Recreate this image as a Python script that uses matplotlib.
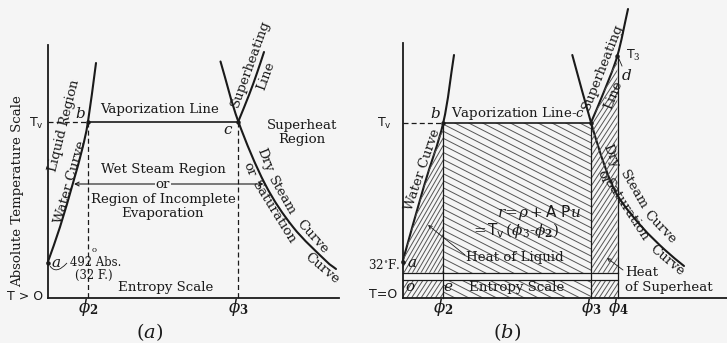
import numpy as np
import matplotlib
matplotlib.use('Agg')
import matplotlib.pyplot as plt
from matplotlib.path import Path
from matplotlib.patches import PathPatch

plt.rcParams['mathtext.fontset'] = 'dejavuserif'

## curve points (pixel coords, y grows downward)
# panel (a)
water_a_x = [47.5, 60, 73, 82, 88, 96]
water_a_y = [263, 227, 183, 150, 121.5, 63]
sat_a_x = [220.5, 238.3, 265, 293, 325, 336]
sat_a_y = [61.5, 121.5, 184, 227, 260, 269]
sh_a_x = [238.3, 249, 257, 264]
sh_a_y = [121.5, 95, 73, 52]
phi_a = [88, 238.3]          # phi2, phi3
tv_a = 121.5

# panel (b)
water_b_x = [402.5, 424, 443.3, 454]
water_b_y = [262, 186, 122.5, 55]
sat_b_x = [572.3, 591, 605, 618.3, 641.7, 665, 684]
sat_b_y = [55, 122.5, 166.7, 196.7, 226.7, 250, 266]
sh_b_x = [591, 603.3, 617.3, 628]
sh_b_y = [122.5, 93.3, 56, 9]
phi_b = [443.3, 591, 617.5]  # phi2, phi3, phi4
tv_b = 122.5
strip_b = [272.7, 279.5]     # lines of the entropy strip

# words set along the saturation curve
sat_words_top = ['Dry', 'Steam', 'Curve']
sat_words_bot = ['or', 'Saturation', 'Curve']

BG = '#f5f5f5'
INK = '#1a1a1a'
SERIF = 'DejaVu Serif'
SANS = 'DejaVu Sans'
FS = 9.6


def curve_path(xs, ys):
    # catmull-rom through the points, handed to matplotlib as cubic beziers
    p = np.column_stack([xs, ys]).astype(float)
    ext = np.vstack([p[0] - (p[1] - p[0]), p, p[-1] + (p[-1] - p[-2])])
    verts = [p[0]]
    codes = [Path.MOVETO]
    for i in range(1, len(ext) - 2):
        c1 = ext[i] + (ext[i + 1] - ext[i - 1]) / 6
        c2 = ext[i + 1] - (ext[i + 2] - ext[i]) / 6
        verts += [c1, c2, ext[i + 1]]
        codes += [Path.CURVE4] * 3
    return verts, codes


def draw_curve(ax, xs, ys, lw=1.5):
    v, c = curve_path(xs, ys)
    ax.add_patch(PathPatch(Path(v, c), fill=False, lw=lw, ec=INK, capstyle='round'))


def hatch(ax, clip, angle, spacing, lw=0.7, color='#555555'):
    # angle in screen degrees, positive = rising to the right
    verts = clip.vertices
    cx, cy = verts[:, 0].mean(), verts[:, 1].mean()
    L = 400
    a = np.radians(angle)
    d = np.array([np.cos(a), -np.sin(a)])
    n = np.array([np.sin(a), np.cos(a)])
    patch = PathPatch(clip, fill=False, lw=0, ec='none')
    ax.add_patch(patch)
    for k in np.arange(-60, 61) * spacing:
        p0 = np.array([cx, cy]) + n * k - d * L
        p1 = np.array([cx, cy]) + n * k + d * L
        ln, = ax.plot([p0[0], p1[0]], [p0[1], p1[1]], color=color, lw=lw)
        ln.set_clip_path(patch)


def box(x0, x1, y0, y1):
    return Path([(x0, y0), (x1, y0), (x1, y1), (x0, y1), (x0, y0)],
                [Path.MOVETO, Path.LINETO, Path.LINETO, Path.LINETO, Path.CLOSEPOLY])


fig = plt.figure(figsize=(7.27, 3.43), dpi=100, facecolor=BG)
ax = fig.add_axes([0, 0, 1, 1])
ax.set_xlim(0, 727)
ax.set_ylim(343, 0)
ax.axis('off')
ax.set_facecolor(BG)

def txt(x, y, s, fs=FS, family=SERIF, **kw):
    kw.setdefault('ha', 'center')
    kw.setdefault('va', 'center')
    kw.setdefault('rotation_mode', 'anchor')
    ax.text(x, y, s, fontsize=fs, family=family, color=INK, **kw)

# ---------------- panel (a) ----------------
ax.plot([47.5, 47.5], [45, 297.5], color=INK, lw=1.3)
ax.plot([47.5, 339], [297.5, 297.5], color=INK, lw=1.3)
draw_curve(ax, water_a_x, water_a_y)
draw_curve(ax, sat_a_x, sat_a_y)
draw_curve(ax, sh_a_x, sh_a_y)
ax.plot([phi_a[0], phi_a[1]], [tv_a, tv_a], color=INK, lw=1.2)
ax.plot([47.5, phi_a[0]], [tv_a, tv_a], color=INK, lw=0.9, ls=(0, (4, 2.5)))
for xp in phi_a:
    ax.plot([xp, xp], [tv_a, 297.5], color=INK, lw=0.9, ls=(0, (4, 2.5)))
ax.plot([water_a_x[0], phi_a[0], phi_a[1]], [water_a_y[0], tv_a, tv_a], 'o',
        color=INK, ms=2.2)
ax.annotate('', xy=(74, 184), xytext=(263.5, 184),
            arrowprops=dict(arrowstyle='<->', lw=0.8, color=INK, mutation_scale=7,
                            shrinkA=0, shrinkB=0))

txt(18, 191, 'Absolute Temperature Scale', rotation=90)
txt(25, 297, 'T > O', family=SANS, fs=9)
txt(36, 123, r'T$_\mathsf{v}$', family=SANS, fs=9)
txt(80, 113, r'$b$', fs=11)
txt(228, 130, r'$c$', fs=11)
txt(160, 110, 'Vaporization Line')
txt(302, 126, 'Superheat')
txt(302, 139, 'Region')
txt(163, 169, 'Wet Steam Region')
txt(163, 184, 'or', bbox=dict(fc=BG, ec='none', pad=0.3))
txt(163, 199, 'Region of Incomplete')
txt(163, 213, 'Evaporation')
txt(166, 288, 'Entropy Scale')
txt(96, 262, '492 Abs.', fs=8.4)
txt(94.5, 250.5, 'o', fs=6)
txt(94, 275, '(32 F.)', fs=8.4)
txt(56, 263, r'$a$', fs=11)
ax.add_patch(PathPatch(Path([(50, 266), (56, 275), (67, 263)],
                            [Path.MOVETO, Path.CURVE3, Path.CURVE3]),
                       fill=False, lw=0.6, ec=INK))
txt(64, 126, 'Liquid Region', rotation=76)
txt(70, 182, 'Water Curve', rotation=74)
txt(250, 64, 'Superheating', rotation=70)
txt(266, 76, 'Line', rotation=70)
for w, x, y, r in zip(sat_words_top, [265, 282, 312], [160, 196, 237], [-68, -60, -48]):
    txt(x, y, w, rotation=r)
for w, x, y, r in zip(sat_words_bot, [249, 274, 322], [169, 213, 268], [-68, -58, -40]):
    txt(x, y, w, rotation=r)
txt(phi_a[0], 308, r'$\phi_{\mathbf{2}}$', fs=12)
txt(phi_a[1], 308, r'$\phi_{\mathbf{3}}$', fs=12)
txt(150, 332, r'$(a)$', fs=14)

# ---------------- panel (b) ----------------
# hatched areas
v, c = curve_path(water_b_x[:3], water_b_y[:3])
liquid = Path(v + [(phi_b[0], strip_b[0]), (402.5, strip_b[0]), v[0]],
              c + [Path.LINETO, Path.LINETO, Path.CLOSEPOLY])
hatch(ax, liquid, 60, 3.7)
hatch(ax, box(phi_b[0], phi_b[1], tv_b, strip_b[0]), -27, 6.3)
v, c = curve_path(sh_b_x[:3], sh_b_y[:3])
superh = Path(v + [(phi_b[2], strip_b[0]), (phi_b[1], strip_b[0]), v[0]],
              c + [Path.LINETO, Path.LINETO, Path.CLOSEPOLY])
hatch(ax, superh, 57, 4.1)
hatch(ax, box(402.5, phi_b[0], strip_b[1], 297.5), 57, 4.0)
hatch(ax, box(phi_b[0], phi_b[1], strip_b[1], 297.5), -27, 6.3)
hatch(ax, box(phi_b[1], phi_b[2], strip_b[1], 297.5), 57, 4.0)

ax.plot([402.5, 402.5], [43, 297.5], color=INK, lw=1.3)
ax.plot([402.5, 727], [297.5, 297.5], color=INK, lw=1.3)
draw_curve(ax, water_b_x, water_b_y)
draw_curve(ax, sat_b_x, sat_b_y)
draw_curve(ax, sh_b_x, sh_b_y)
ax.plot([phi_b[0], phi_b[1]], [tv_b, tv_b], color=INK, lw=1.2)
ax.plot([402.5, phi_b[0]], [tv_b, tv_b], color=INK, lw=0.9, ls=(0, (4, 2.5)))
ax.plot([phi_b[0], phi_b[0]], [tv_b, 297.5], color=INK, lw=0.9)
ax.plot([phi_b[1], phi_b[1]], [tv_b, 297.5], color=INK, lw=0.9)
ax.plot([phi_b[2], phi_b[2]], [sh_b_y[2], 297.5], color=INK, lw=0.9)
for ys in strip_b:
    ax.plot([402.5, phi_b[2]], [ys, ys], color=INK, lw=0.9)
ax.plot([water_b_x[0], phi_b[0], phi_b[1], sh_b_x[2]],
        [water_b_y[0], tv_b, tv_b, sh_b_y[2]], 'o', color=INK, ms=2.2)

txt(383, 295, 'T=O', family=SANS, fs=9)
txt(384, 123, r'T$_\mathsf{v}$', family=SANS, fs=9)
txt(435, 114, r'$b$', fs=11)
txt(518, 113, r'Vaporization Line-$c$')
txt(423, 170, 'Water Curve', rotation=71)
txt(539, 212, r'$r\!=\!\rho+\mathsf{A\ P}u$', fs=11)
txt(515, 230, r'$=\!\mathsf{T}_\mathsf{v}\,(\phi_{3}$-$\phi_{\mathbf{2}})$', fs=11)
txt(515, 257, 'Heat of Liquid')
ax.annotate('', xy=(428, 225), xytext=(465, 255),
            arrowprops=dict(arrowstyle='->', lw=0.6, color=INK, mutation_scale=6,
                            shrinkA=0, shrinkB=0))
txt(384, 265, r'32$^{\circ}$F.', fs=8.6)
txt(412, 263, r'$a$', fs=11)
txt(410, 287, r'$o$', fs=11)
txt(448, 287, r'$e$', fs=11)
txt(517, 287, 'Entropy Scale')
txt(phi_b[0], 308, r'$\phi_{\mathbf{2}}$', fs=12)
txt(phi_b[1], 308, r'$\phi_{\mathbf{3}}$', fs=12)
txt(phi_b[2] + 1, 307, r'$\phi_{\mathbf{4}}$', fs=12)
txt(507, 332, r'$(b)$', fs=14)
txt(625, 273, 'Heat', ha='left')
txt(625, 287, 'of Superheat', ha='left')
ax.annotate('', xy=(607, 258), xytext=(623, 270),
            arrowprops=dict(arrowstyle='->', lw=0.6, color=INK, mutation_scale=6,
                            shrinkA=0, shrinkB=0))
txt(626, 55, r'T$_3$', family=SANS, fs=9, ha='left')
txt(627, 76, r'$d$', fs=11)
ax.plot([622, 619], [66, 59], color=INK, lw=0.6)
txt(603, 67, 'Superheating', rotation=68.5)
txt(613, 95, 'Line', rotation=68.5)
for w, x, y, r in zip(sat_words_top, [611, 634, 660], [156, 190, 227], [-68, -60, -46]):
    txt(x, y, w, rotation=r)
for w, x, y, r in zip(sat_words_bot, [603, 626, 667], [177, 210, 260], [-68, -57, -40]):
    txt(x, y, w, rotation=r)

fig.savefig('out.png', dpi=100, facecolor=BG)
